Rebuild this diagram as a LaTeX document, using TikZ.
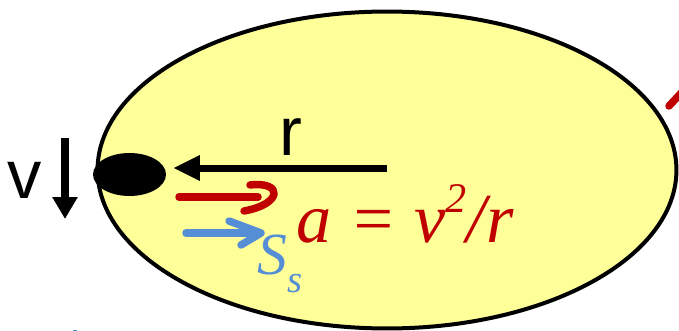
\documentclass[tikz,border=0pt]{standalone}
\definecolor{OrbitYellow}{RGB}{255,255,153}
\definecolor{InkRed}{RGB}{192,0,0}
\definecolor{InkBlue}{RGB}{85,142,213}
\usepackage{fontspec}
\setmainfont{Liberation Sans}
\newfontfamily\inkfont{Liberation Serif}
\usepackage{tikz}
\usetikzlibrary{arrows.meta,positioning,calc,shapes.geometric}

\begin{document}
\begin{tikzpicture}[x=0.02cm, y=-0.02cm,
        orbit/.style={ellipse, draw=black, fill=OrbitYellow, line width=0.08cm,
                      minimum width=11.58cm, minimum height=6.34cm, inner sep=0pt},
        ball/.style={ellipse, fill=black, minimum width=1.46cm, minimum height=0.86cm,
                     inner sep=0pt},
        biglabel/.style={font=\fontsize{39}{40}\selectfont, text=black, inner sep=0pt},
        bigarrow/.style={-{Triangle[length=0.54cm, width=0.48cm]}, line width=0.14cm},
        downarrow/.style={-{Triangle[length=0.44cm, width=0.48cm]}, line width=0.16cm},
        redink/.style={InkRed, line width=0.15cm, line cap=round, line join=round},
        blueink/.style={InkBlue, line width=0.15cm, line cap=round, line join=round}
      ]
        \useasboundingbox (0,0) rectangle (679,331);

        \node[orbit] (path) at (387,170) {};
        \node[ball]  (mass) at (129.5,174.5) {};

        % radius arrow
        \coordinate (centre) at (387,168);
        \coordinate (rtip)   at (173,168);
        \draw[bigarrow] (centre) -- (rtip);
        \node[biglabel] (rlab) at (291,137) {r};

        % velocity
        \node[biglabel] (vlab) at (24.5,180.5) {v};
        \coordinate (vtop) at (65,138);
        \coordinate (vbot) at (65,219);
        \draw[downarrow] (vtop) -- (vbot);

        % red annotation
        \coordinate (astart) at (179,197);
        \coordinate (aend)   at (258,197);
        \draw[redink] (astart) -- (aend);
        \draw[redink] (250,185) .. controls (283,181) and (283,204) .. (244,211);
        \node[text=InkRed, font=\inkfont\itshape\fontsize{40}{44}\selectfont, inner sep=0pt]
              (accel) at (405,214) {a = v\raisebox{0.42em}{\fontsize{24}{24}\selectfont 2}/r};
        \draw[redink] (669,106) -- (684,90);

        % blue annotation
        \coordinate (sstart) at (186,233);
        \coordinate (send)   at (258,233);
        \draw[blueink] (sstart) -- (send);
        \draw[blueink] (229,221) -- (261,233) -- (241,245);
        \node[text=InkBlue, font=\inkfont\itshape\fontsize{34}{36}\selectfont, inner sep=0pt]
              (ssub) at (280,264) {S\raisebox{-0.3em}{\fontsize{22}{22}\selectfont s}};
        \draw[InkBlue, line width=0.06cm] (73,331) -- (77,331);
      \end{tikzpicture}
\end{document}
